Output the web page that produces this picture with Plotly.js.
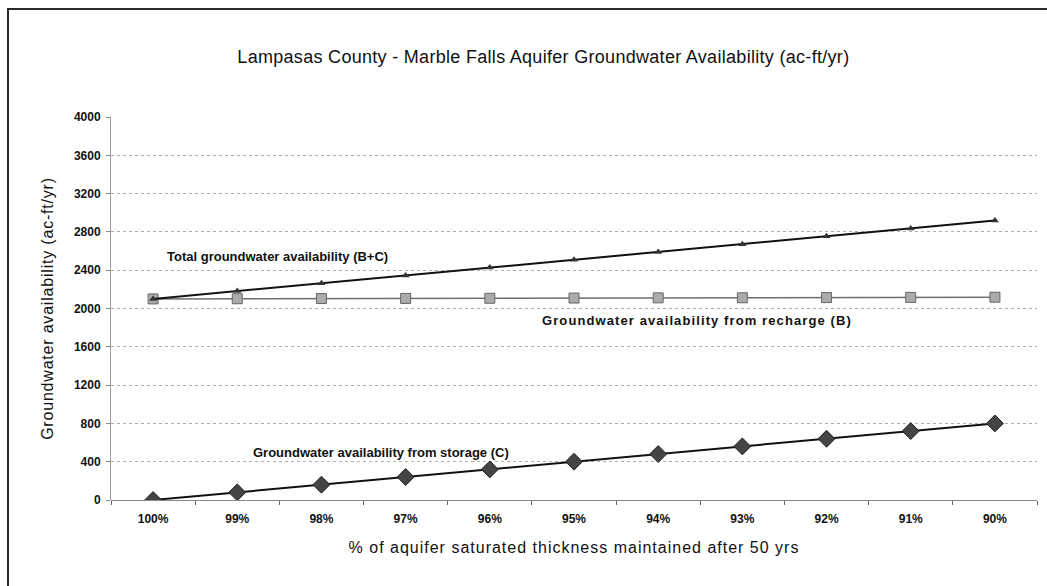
<!DOCTYPE html>
<html>
<head>
<meta charset="utf-8">
<script src="https://cdn.plot.ly/plotly-3.0.1.min.js"></script>
<style>
html,body{margin:0;padding:0;background:#fff;overflow:hidden;}
#chart{width:1047px;height:586px;}
#frame{position:absolute;left:7px;top:8px;width:1200px;height:800px;border-left:2px solid #2a2a2a;border-top:2px solid #2a2a2a;pointer-events:none;}
</style>
</head>
<body>
<div id="chart"></div>
<div id="frame"></div>
<script>
var xLabels = ['100%','99%','98%','97%','96%','95%','94%','93%','92%','91%','90%'];
var storageC = [0, 80, 160, 240, 320, 400, 480, 560, 640, 720, 800];
var rechargeB = [2100, 2102, 2104, 2105, 2107, 2109, 2111, 2112, 2114, 2116, 2118];
var totalBC = [2100, 2182, 2264, 2345, 2427, 2509, 2591, 2672, 2754, 2836, 2918];
var yTicks = [0,400,800,1200,1600,2000,2400,2800,3200,3600,4000];

var F = 'Liberation Sans, Arial, sans-serif';

var traces = [
  {x: xLabels, y: rechargeB, type: 'scatter', mode: 'lines+markers',
   line: {color: '#6e6e6e', width: 1.5},
   marker: {symbol: 'square', size: 10, color: '#ababab', line: {color: '#666', width: 1}}},
  {x: xLabels, y: totalBC, type: 'scatter', mode: 'lines+markers',
   line: {color: '#111', width: 2},
   marker: {symbol: 'triangle-up', size: 7, color: '#333'}},
  {x: xLabels, y: storageC, type: 'scatter', mode: 'lines+markers',
   line: {color: '#111', width: 2},
   marker: {symbol: 'diamond', size: 13, color: '#444', line: {color: '#222', width: 1}}}
];

function spaced(t, px) { return '<span style="letter-spacing:' + px + 'px">' + t + '</span>'; }

var layout = {
  width: 1047, height: 586,
  margin: {l: 111, r: 10, t: 117, b: 86},
  paper_bgcolor: '#fff', plot_bgcolor: '#fff',
  showlegend: false,
  font: {family: F, color: '#111'},
  title: {text: spaced('Lampasas County - Marble Falls Aquifer Groundwater Availability (ac-ft/yr)', 0.3),
          font: {family: F, size: 18, color: '#111'},
          xref: 'container', x: 0.519, xanchor: 'center', yref: 'container', y: 0.903, yanchor: 'middle'},
  xaxis: {
    type: 'category', range: [-0.5, 10.5],
    tickfont: {family: F, size: 12, color: '#111', weight: 'bold'},
    ticklabelstandoff: 10,
    showgrid: false, zeroline: false, showline: false,
    ticks: 'outside', tickson: 'boundaries', ticklen: 4, tickcolor: '#666',
    title: {text: spaced('% of aquifer saturated thickness maintained after 50 yrs', 1), font: {family: F, size: 16, color: '#111'}, standoff: 16}
  },
  yaxis: {
    range: [0, 4000], tickvals: yTicks, ticktext: yTicks.map(String),
    tickfont: {family: F, size: 12, color: '#111', weight: 'bold'},
    ticklabelstandoff: 3,
    showgrid: true, gridcolor: '#b0b0b0', griddash: 'dot', gridwidth: 1,
    zeroline: true, zerolinecolor: '#888', zerolinewidth: 1,
    showline: true, linecolor: '#999', linewidth: 1,
    ticks: 'outside', ticklen: 4, tickcolor: '#888',
    title: {text: spaced('Groundwater availability (ac-ft/yr)', 0.8), font: {family: F, size: 16, color: '#111'}, standoff: 16}
  },
  annotations: [
    {x: 0.14, y: 2547, xref: 'x', yref: 'y', text: '<b>Total groundwater availability (B+C)</b>', showarrow: false,
     xanchor: 'left', yanchor: 'middle', font: {family: F, size: 13, color: '#111'}},
    {x: 4.6, y: 1879, xref: 'x', yref: 'y', text: '<b>' + spaced('Groundwater availability from recharge (B)', 1.1) + '</b>', showarrow: false,
     xanchor: 'left', yanchor: 'middle', font: {family: F, size: 13, color: '#111'}},
    {x: 1.16, y: 501, xref: 'x', yref: 'y', text: '<b>Groundwater availability from storage (C)</b>', showarrow: false,
     xanchor: 'left', yanchor: 'middle', font: {family: F, size: 13, color: '#111'}}
  ]
};

Plotly.newPlot('chart', traces, layout, {displayModeBar: false, staticPlot: true});
</script>
</body>
</html>
